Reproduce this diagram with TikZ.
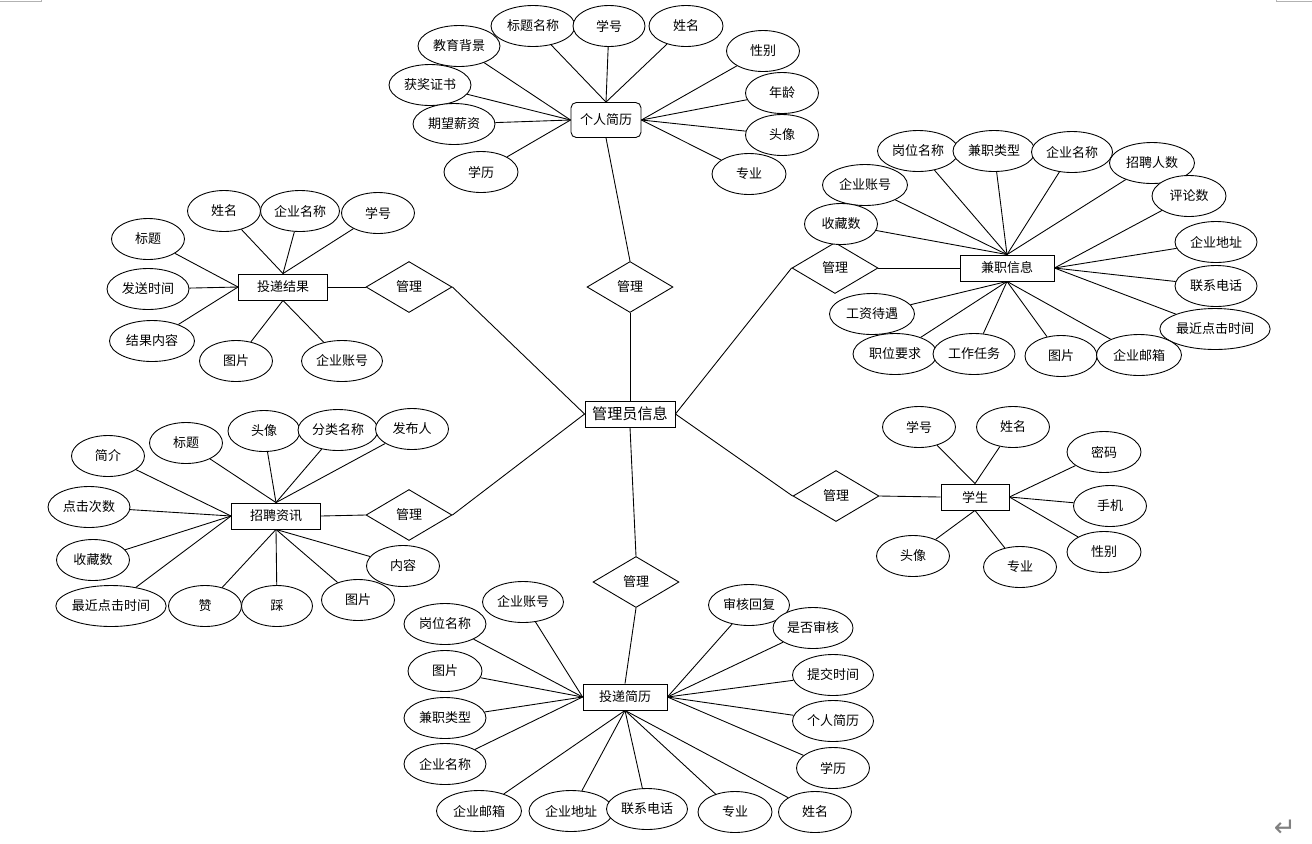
\documentclass[tikz,border=0pt]{standalone}
\usepackage{fontspec}
\setmainfont{Noto Sans CJK SC}
\newfontfamily\symfont{DejaVu Sans}
\usetikzlibrary{shapes.geometric, positioning}
\tikzset{
  attr/.style={ellipse, draw, fill=white, inner sep=0pt, minimum width=1.46cm, minimum height=0.82cm},
  ent/.style={rectangle, draw, fill=white, inner sep=0pt, minimum width=1.78cm, minimum height=0.52cm},
  rel/.style={diamond, draw, fill=white, inner sep=0pt, minimum width=1.72cm, minimum height=1.02cm},
}

\begin{document}
\begin{tikzpicture}[x=0.02cm, y=-0.02cm, line width=0.5pt, font=\fontsize{7.4}{9}\selectfont]
    \useasboundingbox (0,0) rectangle (1312,843);

    % entities
    \node[ent, minimum width=1.8cm, font=\fontsize{8.6}{10}\selectfont] (admin) at (630,414) {管理员信息};
    \node[ent, rounded corners=3pt, minimum width=1.4cm, minimum height=0.7cm] (jl) at (606,120) {个人简历};
    \node[ent] (tj) at (283,287) {投递结果};
    \node[ent, minimum width=1.88cm] (jz) at (1007,268) {兼职信息};
    \node[ent] (zp) at (276,516) {招聘资讯};
    \node[ent, minimum width=1.36cm] (xs) at (975,497) {学生};
    \node[ent, minimum width=1.68cm] (td) at (625,697) {投递简历};

    % relations
    \foreach \n/\x/\y in {r1/630/287, r2/409/287, r3/835/268, r4/409/515, r5/836/496, r6/636/582}
        \node[rel] (\n) at (\x,\y) {管理};

    \draw (jl.south) -- (r1.north);
    \draw (r1.south) -- (admin.north);
    \draw (tj.east) -- (r2.west);
    \draw (r2.east) -- (admin.west);
    \draw (r3.east) -- (jz.west);
    \draw (r3.west) -- (admin.east);
    \draw (zp.east) -- (r4.west);
    \draw (r4.east) -- (admin.west);
    \draw (r5.east) -- (xs.west);
    \draw (r5.west) -- (admin.east);
    \draw (admin.south) -- (r6.north);
    \draw (r6.south) -- (td.north);

    % 个人简历
    \foreach \n/\w/\x/\y/\t in {jla/1.68/533/26/标题名称, jlb/1.44/609/26/学号, jlc/1.48/686/26/姓名,
        jld/1.64/459/46/教育背景, jle/1.64/430/85/获奖证书, jlf/1.64/454/124/期望薪资, jlg/1.48/481/172/学历,
        jlh/1.46/763/51/性别, jli/1.46/782/93/年龄, jlj/1.46/782/135/头像, jlk/1.48/749/174/专业}
        \node[attr, minimum width=\w cm] (\n) at (\x,\y) {\t};
    \foreach \n in {jla,jlb,jlc} \draw (\n) -- (jl.north);
    \foreach \n in {jld,jle,jlf,jlg} \draw (\n) -- (jl.west);
    \foreach \n in {jlh,jli,jlj,jlk} \draw (\n) -- (jl.east);

    % 投递结果
    \foreach \n/\w/\x/\y/\t in {tja/1.46/224/211/姓名, tjb/1.58/300/211/企业名称, tjc/1.46/378/213/学号,
        tjd/1.46/148/239/标题, tje/1.64/148/289/发送时间, tjf/1.70/152/341/结果内容,
        tjg/1.46/236/361/图片, tjh/1.62/342/361/企业账号}
        \node[attr, minimum width=\w cm] (\n) at (\x,\y) {\t};
    \foreach \n in {tja,tjb,tjc} \draw (\n) -- (tj.north);
    \foreach \n in {tjd,tje,tjf} \draw (\n) -- (tj.west);
    \foreach \n in {tjg,tjh} \draw (\n) -- (tj.south);

    % 兼职信息
    \foreach \n/\w/\x/\y/\t in {jza/1.70/865/185/企业账号, jzb/1.46/841/224/收藏数,
        jzc/1.62/918/151/岗位名称, jzd/1.64/994/151/兼职类型, jze/1.62/1072/152/企业名称, jzf/1.70/1152/163/招聘人数,
        jzg/1.48/1189/196/评论数, jzh/1.64/1216/242/企业地址, jzi/1.64/1216/286/联系电话, jzj/2.16/1215/329/最近点击时间,
        jzk/1.70/872/314/工资待遇, jzl/1.68/895/354/职位要求, jzm/1.64/974/354/工作任务, jzn/1.44/1061/356/图片,
        jzo/1.70/1139/355/企业邮箱}
        \node[attr, minimum width=\w cm] (\n) at (\x,\y) {\t};
    \foreach \n in {jza,jzb,jzc,jzd,jze,jzf} \draw (\n) -- (jz.north);
    \foreach \n in {jzg,jzh,jzi,jzj} \draw (\n) -- (jz.east);
    \foreach \n in {jzk,jzl,jzm,jzn,jzo} \draw (\n) -- (jz.south);

    % 招聘资讯
    \foreach \n/\w/\x/\y/\t in {zpa/1.46/108/456/简介, zpb/1.64/89/507/点击次数, zpc/1.46/93/560/收藏数,
        zpd/2.16/111/606/最近点击时间, zpe/1.46/186/443/标题, zpf/1.44/264/431/头像, zpg/1.60/338/430/分类名称,
        zph/1.46/412/429/发布人, zpi/1.46/205/606/赞, zpj/1.42/277/606/踩, zpk/1.46/358/600/图片,
        zpl/1.46/403/566/内容}
        \node[attr, minimum width=\w cm] (\n) at (\x,\y) {\t};
    \foreach \n in {zpa,zpb,zpc,zpd} \draw (\n) -- (zp.west);
    \foreach \n in {zpe,zpf,zpg,zph} \draw (\n) -- (zp.north);
    \foreach \n in {zpi,zpj,zpk,zpl} \draw (\n) -- (zp.south);

    % 学生
    \foreach \n/\w/\x/\y/\t in {xsa/1.46/919/427/学号, xsb/1.46/1013/427/姓名, xsc/1.48/1104/452/密码,
        xsd/1.46/1110/506/手机, xse/1.48/1104/552/性别, xsf/1.46/913/556/头像, xsg/1.46/1020/567/专业}
        \node[attr, minimum width=\w cm] (\n) at (\x,\y) {\t};
    \foreach \n in {xsa,xsb} \draw (\n) -- (xs.north);
    \foreach \n in {xsc,xsd,xse} \draw (\n) -- (xs.east);
    \foreach \n in {xsf,xsg} \draw (\n) -- (xs.south);

    % 投递简历
    \foreach \n/\w/\x/\y/\t in {tda/1.62/523/602/企业账号, tdb/1.64/445/624/岗位名称, tdc/1.48/445/671/图片,
        tdd/1.64/445/718/兼职类型, tde/1.64/445/764/企业名称,
        tdf/1.70/479/811/企业邮箱, tdg/1.68/571/811/企业地址, tdh/1.62/647/809/联系电话, tdi/1.48/735/812/专业,
        tdj/1.46/815/812/姓名,
        tdk/1.62/749/605/审核回复, tdl/1.60/813/628/是否审核, tdm/1.62/833/675/提交时间, tdn/1.62/833/721/个人简历,
        tdo/1.46/833/768/学历}
        \node[attr, minimum width=\w cm] (\n) at (\x,\y) {\t};
    \foreach \n in {tda,tdb,tdc,tdd,tde} \draw (\n) -- (td.west);
    \foreach \n in {tdf,tdg,tdh,tdi,tdj} \draw (\n) -- (td.south);
    \foreach \n in {tdk,tdl,tdm,tdn,tdo} \draw (\n) -- (td.east);

    % page marks
    \draw[gray!60, line width=0.4pt] (0,1.5) -- (41,1.5) -- (41,0);
    \draw[gray!60, line width=0.4pt] (1276,0) -- (1276,1.5) -- (1312,1.5);
    \node[text=gray, font=\symfont\fontsize{15}{15}\selectfont] (ret) at (1285,828) {↵};
\end{tikzpicture}
\end{document}
